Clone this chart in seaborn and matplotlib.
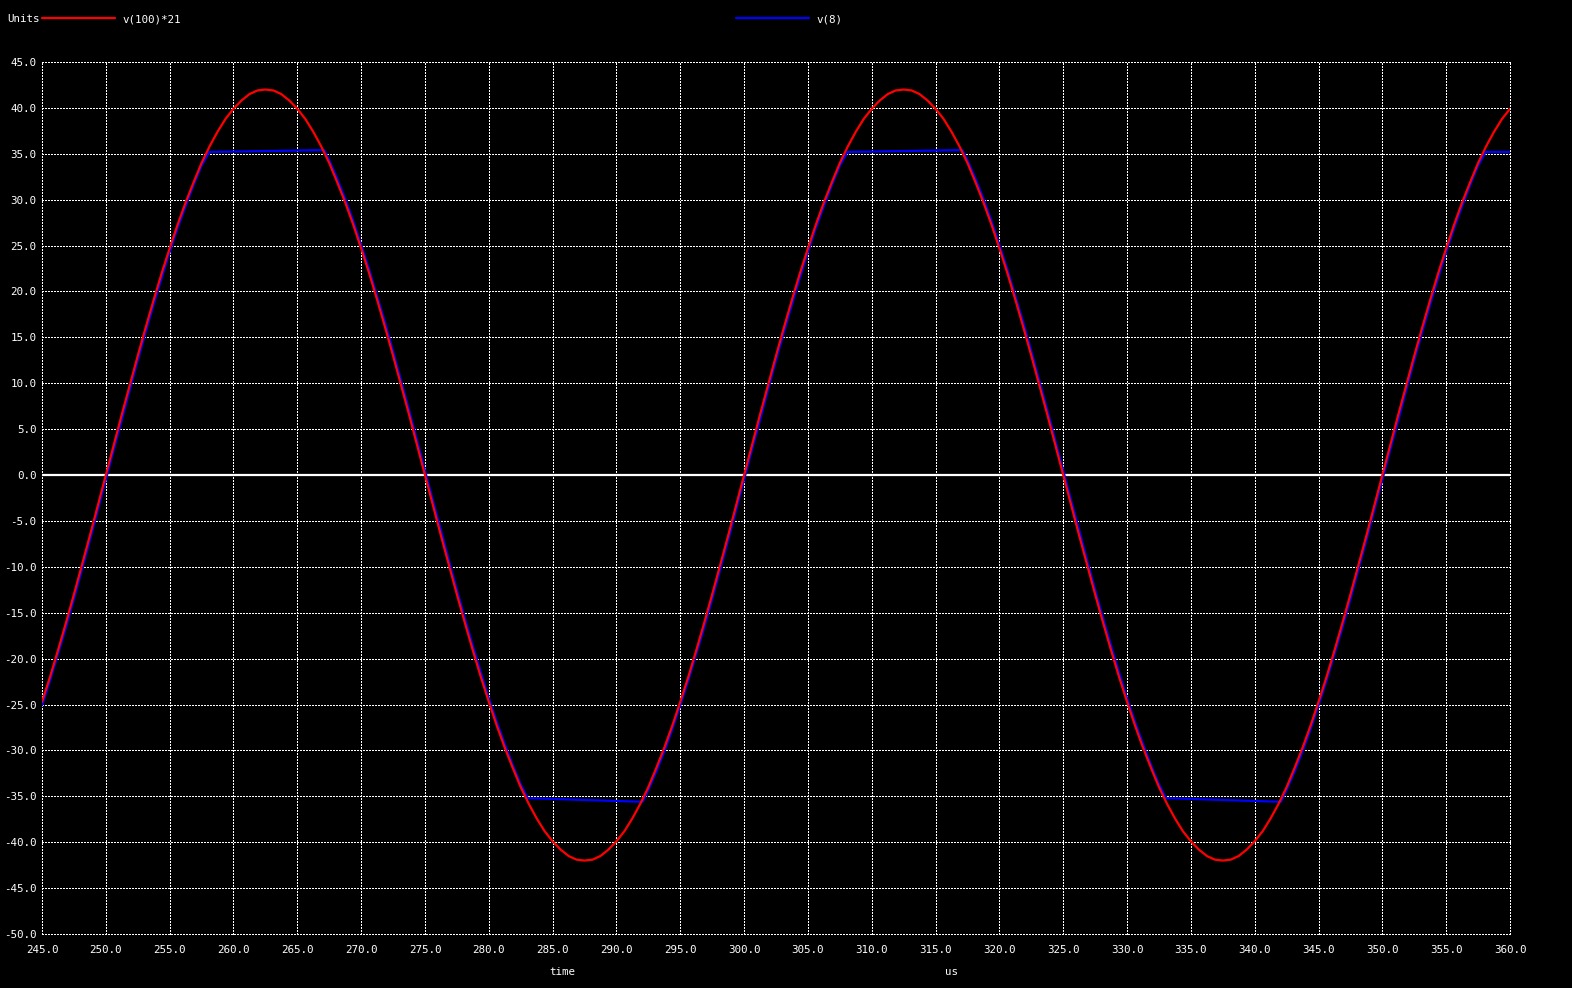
import matplotlib
matplotlib.use("Agg")
import matplotlib.pyplot as plt
import seaborn as sns
import pandas as pd

# ---- data (time in us, value in units) ----
red_time = [
    245.000, 245.625, 246.250, 246.875, 247.500, 248.125, 248.750, 249.375,
    250.000, 250.625, 251.250, 251.875, 252.500, 253.125, 253.750, 254.375,
    255.000, 255.625, 256.250, 256.875, 257.500, 258.125, 258.750, 259.375,
    260.000, 260.625, 261.250, 261.875, 262.500, 263.125, 263.750, 264.375,
    265.000, 265.625, 266.250, 266.875, 267.500, 268.125, 268.750, 269.375,
    270.000, 270.625, 271.250, 271.875, 272.500, 273.125, 273.750, 274.375,
    275.000, 275.625, 276.250, 276.875, 277.500, 278.125, 278.750, 279.375,
    280.000, 280.625, 281.250, 281.875, 282.500, 283.125, 283.750, 284.375,
    285.000, 285.625, 286.250, 286.875, 287.500, 288.125, 288.750, 289.375,
    290.000, 290.625, 291.250, 291.875, 292.500, 293.125, 293.750, 294.375,
    295.000, 295.625, 296.250, 296.875, 297.500, 298.125, 298.750, 299.375,
    300.000, 300.625, 301.250, 301.875, 302.500, 303.125, 303.750, 304.375,
    305.000, 305.625, 306.250, 306.875, 307.500, 308.125, 308.750, 309.375,
    310.000, 310.625, 311.250, 311.875, 312.500, 313.125, 313.750, 314.375,
    315.000, 315.625, 316.250, 316.875, 317.500, 318.125, 318.750, 319.375,
    320.000, 320.625, 321.250, 321.875, 322.500, 323.125, 323.750, 324.375,
    325.000, 325.625, 326.250, 326.875, 327.500, 328.125, 328.750, 329.375,
    330.000, 330.625, 331.250, 331.875, 332.500, 333.125, 333.750, 334.375,
    335.000, 335.625, 336.250, 336.875, 337.500, 338.125, 338.750, 339.375,
    340.000, 340.625, 341.250, 341.875, 342.500, 343.125, 343.750, 344.375,
    345.000, 345.625, 346.250, 346.875, 347.500, 348.125, 348.750, 349.375,
    350.000, 350.625, 351.250, 351.875, 352.500, 353.125, 353.750, 354.375,
    355.000, 355.625, 356.250, 356.875, 357.500, 358.125, 358.750, 359.375,
    360.000]
red_values = [
    -24.7, -22.0, -19.1, -16.1, -13.0, -9.8, -6.6, -3.3,
    0.0, 3.3, 6.6, 9.8, 13.0, 16.1, 19.1, 22.0,
    24.7, 27.3, 29.7, 31.9, 34.0, 35.8, 37.4, 38.8,
    39.9, 40.8, 41.5, 41.9, 42.0, 41.9, 41.5, 40.8,
    39.9, 38.8, 37.4, 35.8, 34.0, 31.9, 29.7, 27.3,
    24.7, 22.0, 19.1, 16.1, 13.0, 9.8, 6.6, 3.3,
    0.0, -3.3, -6.6, -9.8, -13.0, -16.1, -19.1, -22.0,
    -24.7, -27.3, -29.7, -31.9, -34.0, -35.8, -37.4, -38.8,
    -39.9, -40.8, -41.5, -41.9, -42.0, -41.9, -41.5, -40.8,
    -39.9, -38.8, -37.4, -35.8, -34.0, -31.9, -29.7, -27.3,
    -24.7, -22.0, -19.1, -16.1, -13.0, -9.8, -6.6, -3.3,
    0.0, 3.3, 6.6, 9.8, 13.0, 16.1, 19.1, 22.0,
    24.7, 27.3, 29.7, 31.9, 34.0, 35.8, 37.4, 38.8,
    39.9, 40.8, 41.5, 41.9, 42.0, 41.9, 41.5, 40.8,
    39.9, 38.8, 37.4, 35.8, 34.0, 31.9, 29.7, 27.3,
    24.7, 22.0, 19.1, 16.1, 13.0, 9.8, 6.6, 3.3,
    0.0, -3.3, -6.6, -9.8, -13.0, -16.1, -19.1, -22.0,
    -24.7, -27.3, -29.7, -31.9, -34.0, -35.8, -37.4, -38.8,
    -39.9, -40.8, -41.5, -41.9, -42.0, -41.9, -41.5, -40.8,
    -39.9, -38.8, -37.4, -35.8, -34.0, -31.9, -29.7, -27.3,
    -24.7, -22.0, -19.1, -16.1, -13.0, -9.8, -6.6, -3.3,
    0.0, 3.3, 6.6, 9.8, 13.0, 16.1, 19.1, 22.0,
    24.7, 27.3, 29.7, 31.9, 34.0, 35.8, 37.4, 38.8,
    39.9]

blue_time = [
    245.000, 245.625, 246.250, 246.875, 247.500, 248.125, 248.750, 249.375,
    250.000, 250.625, 251.250, 251.875, 252.500, 253.125, 253.750, 254.375,
    255.000, 255.625, 256.250, 256.875, 257.500, 258.100, 262.500, 267.100,
    267.500, 268.125, 268.750, 269.375, 270.000, 270.625, 271.250, 271.875,
    272.500, 273.125, 273.750, 274.375,
    275.000, 275.625, 276.250, 276.875, 277.500, 278.125, 278.750, 279.375,
    280.000, 280.625, 281.250, 281.875, 282.500, 283.050, 287.500, 292.050,
    292.500, 293.125, 293.750, 294.375, 295.000, 295.625, 296.250, 296.875,
    297.500, 298.125, 298.750, 299.375,
    300.000, 300.625, 301.250, 301.875, 302.500, 303.125, 303.750, 304.375,
    305.000, 305.625, 306.250, 306.875, 307.500, 308.100, 312.500, 317.100,
    317.500, 318.125, 318.750, 319.375, 320.000, 320.625, 321.250, 321.875,
    322.500, 323.125, 323.750, 324.375,
    325.000, 325.625, 326.250, 326.875, 327.500, 328.125, 328.750, 329.375,
    330.000, 330.625, 331.250, 331.875, 332.500, 333.050, 337.500, 342.050,
    342.500, 343.125, 343.750, 344.375, 345.000, 345.625, 346.250, 346.875,
    347.500, 348.125, 348.750, 349.375,
    350.000, 350.625, 351.250, 351.875, 352.500, 353.125, 353.750, 354.375,
    355.000, 355.625, 356.250, 356.875, 357.500, 358.100, 360.000]
blue_values = [
    -25.1, -22.4, -19.5, -16.6, -13.5, -10.3, -7.1, -3.8,
    -0.5, 2.8, 6.0, 9.3, 12.5, 15.6, 18.6, 21.5,
    24.3, 26.9, 29.3, 31.6, 33.7, 35.2, 35.3, 35.4,
    34.3, 32.3, 30.1, 27.7, 25.1, 22.4, 19.5, 16.6,
    13.5, 10.3, 7.1, 3.8,
    0.5, -2.8, -6.0, -9.3, -12.5, -15.6, -18.6, -21.5,
    -24.3, -26.9, -29.3, -31.6, -33.7, -35.2, -35.4, -35.6,
    -34.3, -32.3, -30.1, -27.7, -25.1, -22.4, -19.5, -16.6,
    -13.5, -10.3, -7.1, -3.8,
    -0.5, 2.8, 6.0, 9.3, 12.5, 15.6, 18.6, 21.5,
    24.3, 26.9, 29.3, 31.6, 33.7, 35.2, 35.3, 35.4,
    34.3, 32.3, 30.1, 27.7, 25.1, 22.4, 19.5, 16.6,
    13.5, 10.3, 7.1, 3.8,
    0.5, -2.8, -6.0, -9.3, -12.5, -15.6, -18.6, -21.5,
    -24.3, -26.9, -29.3, -31.6, -33.7, -35.2, -35.4, -35.6,
    -34.3, -32.3, -30.1, -27.7, -25.1, -22.4, -19.5, -16.6,
    -13.5, -10.3, -7.1, -3.8,
    -0.5, 2.8, 6.0, 9.3, 12.5, 15.6, 18.6, 21.5,
    24.3, 26.9, 29.3, 31.6, 33.7, 35.2, 35.2]

x_ticks = [245, 250, 255, 260, 265, 270, 275, 280, 285, 290, 295, 300, 305, 310,
           315, 320, 325, 330, 335, 340, 345, 350, 355, 360]
y_ticks = [-50, -45, -40, -35, -30, -25, -20, -15, -10, -5, 0, 5, 10, 15, 20, 25, 30, 35, 40, 45]
x_tick_labels = [f"{v}.0" for v in x_ticks]
y_tick_labels = [f"{v}.0" for v in y_ticks]

series_names = ["v(100)*21", "v(8)"]
series_colors = ["#ff0000", "#0000ff"]

# ---- plot ----
sns.set_theme(style="dark")
plt.rcParams["font.family"] = ["DejaVu Sans Mono"]
plt.rcParams["axes.unicode_minus"] = False
FS = 7.8

fig = plt.figure(figsize=(15.72, 9.88), dpi=100, facecolor="black")
ax = fig.add_axes([42 / 1572, 1 - 934 / 988, (1510 - 42) / 1572, (934 - 62) / 988])
ax.set_facecolor("black")

df_red = pd.DataFrame({"time": red_time, "value": red_values})
df_blue = pd.DataFrame({"time": blue_time, "value": blue_values})

ax.axhline(0, color="white", lw=1.6, zorder=2)
sns.lineplot(data=df_blue, x="time", y="value", ax=ax, color=series_colors[1],
             lw=1.6, sort=False, estimator=None, zorder=3)
sns.lineplot(data=df_red, x="time", y="value", ax=ax, color=series_colors[0],
             lw=1.6, sort=False, estimator=None, zorder=4)

ax.set_xlim(245, 360)
ax.set_ylim(-50, 45)
ax.set_xticks(x_ticks)
ax.set_xticklabels(x_tick_labels)
ax.set_yticks(y_ticks)
ax.set_yticklabels(y_tick_labels)
ax.tick_params(axis="both", colors="white", labelcolor="white", labelsize=FS, length=0)
ax.tick_params(axis="x", pad=8)
ax.tick_params(axis="y", pad=4)
for s in ax.spines.values():
    s.set_visible(False)
ax.set_xlabel("")
ax.set_ylabel("")

ax.grid(True, color="white", lw=0.72, linestyle=(0, (1.5, 1.5)), zorder=1)
for gl in ax.get_xgridlines() + ax.get_ygridlines():
    gl.set_clip_on(False)
    gl.set_antialiased(False)
ax.set_axisbelow(True)

# header legend
fig.text(7 / 1572, 1 - 19 / 988, "Units", color="white", fontsize=FS, va="center", ha="left")
fig.add_artist(plt.Line2D([42 / 1572, 115 / 1572], [1 - 18 / 988, 1 - 18 / 988],
                          color=series_colors[0], lw=1.6, transform=fig.transFigure))
fig.text(122 / 1572, 1 - 19 / 988, series_names[0], color="white", fontsize=FS, va="center", ha="left")
fig.add_artist(plt.Line2D([736 / 1572, 809 / 1572], [1 - 18 / 988, 1 - 18 / 988],
                          color=series_colors[1], lw=1.6, transform=fig.transFigure))
fig.text(816 / 1572, 1 - 19 / 988, series_names[1], color="white", fontsize=FS, va="center", ha="left")

# axis captions
fig.text(562 / 1572, 1 - 972 / 988, "time", color="white", fontsize=FS, va="center", ha="center")
fig.text(951 / 1572, 1 - 972 / 988, "us", color="white", fontsize=FS, va="center", ha="center")

fig.savefig("out.png", dpi=100, facecolor="black")
